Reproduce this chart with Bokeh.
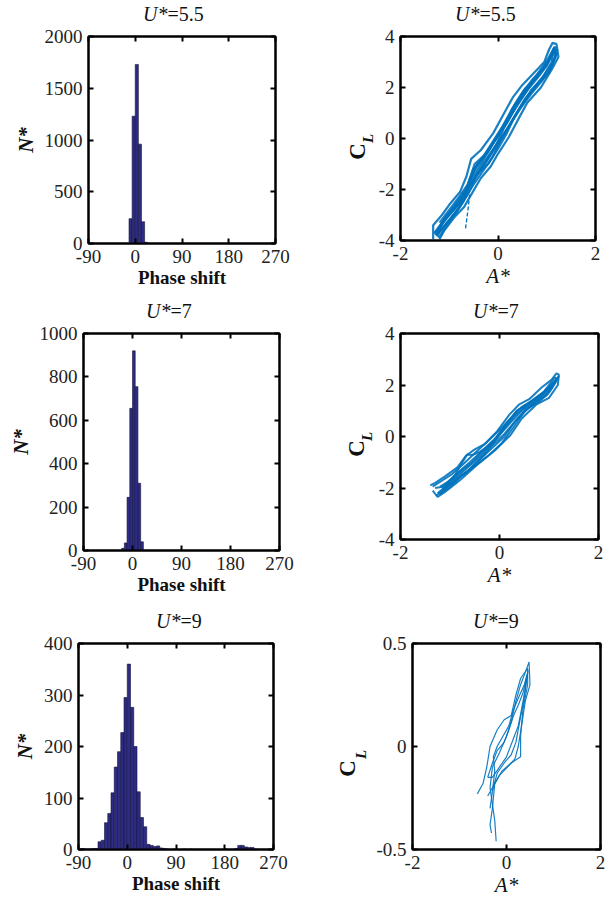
import numpy as np
from bokeh.plotting import figure
from bokeh.layouts import column, row
from bokeh.models import Range1d, FixedTicker, LinearAxis, CustomJSTickFormatter
from bokeh.core.properties import value
from bokeh.embed import file_html
from bokeh.resources import INLINE

FONT = "Liberation Serif"
BAR_COLOR = "#2D2B83"
LINE_COLOR = "#0072BD"

# ---------------- data ----------------
u_values = ["5.5", "7", "9"]

# histograms of phase shift (deg)
hist55_centers = [-9, -3, 3, 9, 15, 21]
hist55_counts = [240, 1230, 1730, 960, 210, 12]
hist55_width = 6

hist7_centers = [-17.5, -12.5, -7.5, -2.5, 2.5, 7.5, 12.5, 17.5]
hist7_counts = [10, 35, 245, 655, 920, 755, 310, 40]
hist7_width = 5

hist9_centers = [-87, -81, -75, -69, -63, -57, -51, -45, -39, -33, -27, -21, -15, -9, -3,
                 3, 9, 15, 21, 27, 33, 39, 45, 51, 57, 63, 69, 75, 87, 105, 117, 183,
                 201, 207, 213, 219, 225, 231, 237]
hist9_counts = [1, 2, 1, 1, 2, 2, 15, 18, 52, 70, 110, 160, 190, 227, 295,
                360, 276, 200, 112, 62, 44, 10, 8, 6, 7, 3, 2, 1, 1, 1, 1, 1,
                2, 8, 8, 5, 4, 4, 1]
hist9_width = 6

phase_ticks = [-90, 0, 90, 180, 270]
hist55_yticks = [0, 500, 1000, 1500, 2000]
hist7_yticks = [0, 200, 400, 600, 800, 1000]
hist9_yticks = [0, 100, 200, 300, 400]

# C_L vs A* traces (U*=5.5)
u55_a_x = [-1.33, -1.33, -1.15, -1.0, -0.78, -0.65, -0.55, -0.35, -0.1, 0.1, 0.3, 0.5, 0.75, 0.95, 1.05, 1.12,
           1.2, 1.24, 1.1, 0.88, 0.6, 0.4, 0.22, 0.0, -0.15, -0.35, -0.55, -0.7, -0.9, -1.1, -1.2]
u55_a_y = [-3.95, -3.4, -3.0, -2.6, -2.1, -1.5, -0.8, -0.45, 0.2, 0.9, 1.6, 2.1, 2.6, 3.0, 3.5, 3.75,
           3.7, 3.2, 2.7, 2.0, 1.4, 0.7, 0.05, -0.6, -1.1, -1.55, -2.2, -2.7, -3.1, -3.6, -3.95]
u55_b_x = [-1.28, -1.1, -0.85, -0.65, -0.5, -0.3, -0.1, 0.1, 0.3, 0.5, 0.7, 0.95, 1.1, 1.18,
           1.15, 1.0, 0.75, 0.5, 0.3, 0.12, -0.05, -0.25, -0.45, -0.62, -0.8, -1.0, -1.22]
u55_b_y = [-3.8, -3.2, -2.5, -2.0, -1.2, -0.7, -0.1, 0.5, 1.2, 1.8, 2.3, 2.8, 3.3, 3.6,
           3.4, 2.9, 2.3, 1.6, 1.0, 0.4, -0.3, -0.9, -1.5, -2.2, -2.7, -3.2, -3.7]
u55_c_x = [-1.25, -1.05, -0.9, -0.7, -0.58, -0.42, -0.2, 0.0, 0.2, 0.42, 0.62, 0.85, 1.02, 1.15,
           1.2, 1.05, 0.82, 0.55, 0.35, 0.18, 0.0, -0.2, -0.4, -0.6, -0.75, -0.95, -1.15, -1.3]
u55_c_y = [-3.6, -3.0, -2.75, -2.3, -1.6, -1.0, -0.5, 0.1, 0.75, 1.5, 2.0, 2.5, 3.0, 3.45,
           3.3, 2.6, 2.15, 1.55, 0.9, 0.2, -0.4, -1.0, -1.35, -1.9, -2.45, -2.9, -3.3, -3.7]
u55_d_x = [-1.2, -1.0, -0.8, -0.62, -0.48, -0.25, -0.05, 0.15, 0.35, 0.55, 0.8, 1.0, 1.15,
           1.1, 0.92, 0.68, 0.45, 0.25, 0.05, -0.12, -0.3, -0.5, -0.68, -0.85, -1.05, -1.25]
u55_d_y = [-3.3, -2.8, -2.3, -1.8, -1.0, -0.6, 0.0, 0.6, 1.35, 1.95, 2.4, 2.9, 3.55,
           3.0, 2.4, 1.9, 1.2, 0.55, -0.1, -0.75, -1.25, -1.8, -2.35, -2.85, -3.3, -3.8]
u55_e_x = [-1.3, -1.12, -0.95, -0.75, -0.6, -0.45, -0.28, -0.05, 0.18, 0.38, 0.6, 0.82, 1.0, 1.12,
           1.22, 1.12, 0.95, 0.7, 0.5, 0.3, 0.1, -0.1, -0.28, -0.48, -0.66, -0.82, -1.02, -1.18, -1.3]
u55_e_y = [-3.7, -3.25, -2.85, -2.4, -1.75, -1.15, -0.7, -0.05, 0.6, 1.3, 1.9, 2.4, 2.85, 3.3,
           3.5, 2.95, 2.5, 1.85, 1.35, 0.75, 0.1, -0.5, -1.05, -1.55, -2.1, -2.6, -3.05, -3.45, -3.75]
u55_f_x = [-1.22, -1.05, -0.85, -0.7, -0.6, -0.4, -0.15, 0.05, 0.25, 0.45, 0.68, 0.9, 1.08, 1.18,
           1.16, 1.02, 0.8, 0.58, 0.38, 0.2, 0.02, -0.18, -0.38, -0.56, -0.72, -0.92, -1.12, -1.25]
u55_f_y = [-3.9, -3.4, -2.9, -2.45, -1.9, -1.3, -0.55, 0.0, 0.55, 1.15, 1.75, 2.25, 2.75, 3.2,
           3.6, 3.1, 2.5, 1.95, 1.4, 0.8, 0.2, -0.45, -1.1, -1.7, -2.25, -2.75, -3.2, -3.85]
u55_dash_x = [-0.58, -0.61, -0.64, -0.67]
u55_dash_y = [-2.2, -2.7, -3.15, -3.6]

# U*=7
u7_a_x = [-1.4, -1.3, -1.1, -0.85, -0.68, -0.5, -0.3, -0.05, 0.2, 0.4, 0.6, 0.85, 1.05, 1.15,
          1.2, 1.18, 1.0, 0.75, 0.45, 0.22, -0.1, -0.45, -0.8, -1.1, -1.25, -1.35]
u7_a_y = [-1.9, -1.8, -1.55, -1.2, -0.75, -0.5, -0.3, 0.2, 0.85, 1.25, 1.45, 1.9, 2.2, 2.45,
          2.4, 2.0, 1.5, 1.25, 0.7, 0.05, -0.55, -1.1, -1.7, -2.15, -2.35, -2.1]
u7_b_x = [-1.25, -1.0, -0.7, -0.4, -0.15, 0.05, 0.3, 0.55, 0.8, 1.0, 1.15,
          1.12, 0.9, 0.65, 0.35, 0.15, -0.1, -0.35, -0.6, -0.9, -1.15, -1.3]
u7_b_y = [-2.2, -1.8, -1.3, -0.8, -0.3, 0.2, 0.8, 1.2, 1.5, 1.9, 2.2,
          2.3, 1.75, 1.4, 1.0, 0.5, -0.1, -0.55, -1.0, -1.5, -1.95, -2.0]
u7_c_x = [-1.2, -0.95, -0.75, -0.55, -0.35, -0.1, 0.12, 0.35, 0.6, 0.85, 1.05, 1.18,
          1.1, 0.95, 0.7, 0.5, 0.28, 0.05, -0.2, -0.5, -0.75, -1.0, -1.22]
u7_c_y = [-1.95, -1.65, -1.3, -1.0, -0.6, -0.15, 0.45, 1.0, 1.3, 1.65, 2.0, 2.3,
          2.1, 1.6, 1.3, 0.95, 0.35, -0.25, -0.7, -1.15, -1.5, -1.95, -2.25]
u7_d_x = [-1.15, -0.9, -0.75, -0.65, -0.55, -0.4, -0.2, 0.0, 0.25, 0.5, 0.75, 0.95, 1.12,
          1.05, 0.82, 0.55, 0.3, 0.1, -0.15, -0.4, -0.65, -0.9, -1.15]
u7_d_y = [-2.05, -1.5, -1.0, -0.7, -0.72, -0.6, -0.35, 0.05, 0.6, 1.1, 1.35, 1.75, 2.1,
          1.85, 1.45, 1.1, 0.55, 0.0, -0.45, -0.9, -1.35, -1.75, -2.05]
u7_e_x = [-1.35, -1.15, -0.95, -0.72, -0.5, -0.25, 0.0, 0.22, 0.45, 0.7, 0.92, 1.1, 1.2,
          1.15, 1.0, 0.8, 0.55, 0.32, 0.1, -0.15, -0.38, -0.62, -0.88, -1.08, -1.28]
u7_e_y = [-1.95, -1.7, -1.45, -1.05, -0.65, -0.2, 0.25, 0.7, 1.15, 1.4, 1.75, 2.1, 2.35,
          2.15, 1.7, 1.35, 1.05, 0.6, 0.1, -0.35, -0.85, -1.3, -1.65, -2.0, -2.3]

# U*=9
u9_a_x = [-0.22, -0.25, -0.3, -0.35, -0.3, -0.15, 0.0, 0.1, 0.2, 0.3, 0.4, 0.48,
          0.5, 0.4, 0.32, 0.25, 0.18, 0.02, -0.15, -0.3, -0.4]
u9_a_y = [-0.46, -0.36, -0.28, -0.2, -0.1, -0.03, 0.05, 0.12, 0.22, 0.3, 0.36, 0.41,
          0.3, 0.22, 0.1, 0.0, -0.06, -0.1, -0.14, -0.2, -0.24]
u9_b_x = [-0.62, -0.5, -0.42, -0.35, -0.2, -0.05, 0.1, 0.2, 0.3, 0.45,
          0.45, 0.35, 0.3, 0.3, 0.1, -0.1, -0.25, -0.3, -0.35, -0.32]
u9_b_y = [-0.23, -0.18, -0.1, 0.0, 0.08, 0.13, 0.15, 0.25, 0.33, 0.38,
          0.3, 0.18, 0.05, -0.05, -0.08, -0.12, -0.18, -0.3, -0.38, -0.42]
u9_c_x = [-0.4, -0.3, -0.2, -0.05, 0.05, 0.15, 0.25, 0.35, 0.42, 0.46,
          0.4, 0.32, 0.25, 0.15, 0.0, -0.15, -0.3, -0.4]
u9_c_y = [-0.15, -0.08, -0.02, 0.02, 0.08, 0.15, 0.2, 0.26, 0.33, 0.37,
          0.28, 0.18, 0.1, 0.04, -0.05, -0.1, -0.15, -0.15]
u9_d_x = [-0.35, -0.3, -0.25, -0.28, -0.2, -0.1, 0.05, 0.15, 0.28, 0.38, 0.44,
          0.38, 0.28, 0.2, 0.1, -0.05, -0.2, -0.3]
u9_d_y = [-0.3, -0.22, -0.12, -0.05, 0.0, 0.04, 0.1, 0.18, 0.25, 0.3, 0.35,
          0.24, 0.12, 0.02, -0.04, -0.08, -0.13, -0.22]

amp_ticks = [-2, 0, 2]
cl_ticks_big = [-4, -2, 0, 2, 4]
cl_ticks_small = [-0.5, 0, 0.5]

FMT = "return String(tick);"
HIDE_FMT = "return '';"
TEXT_COLOR = "#111111"


def style_axis(ax, ticks, show_labels):
    ax.ticker = FixedTicker(ticks=ticks)
    ax.minor_tick_line_color = None
    ax.major_tick_in = 5
    ax.major_tick_out = 0
    ax.major_tick_line_width = 2
    ax.major_tick_line_color = "black"
    ax.axis_line_color = "black"
    ax.axis_line_width = 2
    ax.major_label_text_font = FONT
    ax.axis_label_text_font = FONT
    ax.axis_label_text_color = TEXT_COLOR
    if show_labels:
        ax.formatter = CustomJSTickFormatter(code=FMT)
        ax.major_label_text_font_size = "19px"
        ax.major_label_text_color = "#222222"
        ax.major_label_standoff = 6
    else:
        ax.formatter = CustomJSTickFormatter(code=HIDE_FMT)
        ax.major_label_text_font_size = "1px"
        ax.major_label_text_color = None
        ax.major_label_standoff = 0


def make_fig(geo, xr, yr, xticks, yticks):
    fw, fh, bl, br, bt, bb = geo
    p = figure(frame_width=fw, frame_height=fh,
               x_range=Range1d(*xr), y_range=Range1d(*yr),
               output_backend="svg", toolbar_location=None, tools="")
    p.min_border_left = bl
    p.min_border_right = br
    p.min_border_top = bt
    p.min_border_bottom = bb
    p.grid.visible = False
    p.outline_line_color = "black"
    p.outline_line_width = 2
    p.background_fill_color = "white"
    p.border_fill_color = "white"
    bottom = p.below[0]
    left = p.left[0]
    style_axis(bottom, xticks, True)
    style_axis(left, yticks, True)
    top = LinearAxis()
    right = LinearAxis()
    style_axis(top, xticks, False)
    style_axis(right, yticks, False)
    p.add_layout(top, "above")
    p.add_layout(right, "right")
    return p, bottom, left


def text_strip(w, h, items):
    """A frameless strip figure whose frame is the whole strip; 1 unit = 1 px."""
    s = figure(frame_width=w, frame_height=h, x_range=Range1d(0, w), y_range=Range1d(0, h),
               output_backend="svg", toolbar_location=None, tools="",
               x_axis_type=None, y_axis_type=None, min_border=0)
    s.outline_line_color = None
    s.background_fill_color = "white"
    s.border_fill_color = "white"
    for (x, y, txt, style, size, align, baseline, angle) in items:
        s.text(x=[x], y=[y], text=[txt], text_font=value(FONT), text_font_style=style,
               text_font_size=size, text_align=align, text_baseline=baseline,
               angle=angle, text_color=TEXT_COLOR)
    return s


def title_items(x_junction, y_mid, u):
    return [(x_junction, y_mid, "U*", "italic", "20px", "right", "middle", 0.0),
            (x_junction, y_mid, "=" + u, "normal", "20px", "left", "middle", 0.0)]


def cl_items(cx, cy, lx, ly):
    return [(cx, cy, "C", "bold", "23px", "center", "middle", np.pi / 2),
            (lx, ly, "L", "bold italic", "15px", "center", "middle", np.pi / 2)]


def hist_panel(geo, yr, yticks, centers, counts, width):
    xr = (-90, 270)
    p, bottom, left = make_fig(geo, xr, yr, phase_ticks, yticks)
    p.vbar(x=centers, top=counts, bottom=0, width=width,
           fill_color=BAR_COLOR, line_color="#15153a", line_width=0.6)
    bottom.axis_label = "Phase shift"
    bottom.axis_label_text_font_style = "bold"
    bottom.axis_label_text_font_size = "19px"
    bottom.axis_label_standoff = 1
    left.axis_label = "N*"
    left.axis_label_text_font_style = "bold italic"
    left.axis_label_text_font_size = "21px"
    left.axis_label_standoff = 4
    return p


def loop_panel(geo, yr, yticks, xs, ys, lw, dash_x=None, dash_y=None):
    xr = (-2, 2)
    p, bottom, left = make_fig(geo, xr, yr, amp_ticks, yticks)
    p.multi_line(xs=xs, ys=ys, line_color=LINE_COLOR, line_width=lw, line_alpha=0.9)
    if dash_x is not None:
        p.line(dash_x, dash_y, line_color=LINE_COLOR, line_width=1.3, line_dash="4 2")
    bottom.axis_label = "A*"
    bottom.axis_label_text_font_style = "italic"
    bottom.axis_label_text_font_size = "21px"
    bottom.axis_label_standoff = 1
    return p


# geometry: frame_w, frame_h, border_left, border_right, border_top, border_bottom
g1 = (187, 207, 88, 55, 11, 57)
g2 = (195, 204, 24, 12, 11, 60)
g3 = (196, 217, 83, 51, 11, 50)
g4 = (198, 206, 23, 10, 11, 61)
g5 = (195, 206, 78, 57, 11, 51)
g6 = (188, 206, 40, 6, 11, 51)
ROW_W = 606

f1 = hist_panel(g1, (0, 2000), hist55_yticks, hist55_centers, hist55_counts, hist55_width)
f2 = loop_panel(g2, (-4, 4), cl_ticks_big,
                [u55_a_x, u55_b_x, u55_c_x, u55_d_x, u55_e_x, u55_f_x],
                [u55_a_y, u55_b_y, u55_c_y, u55_d_y, u55_e_y, u55_f_y],
                2.2, u55_dash_x, u55_dash_y)
f3 = hist_panel(g3, (0, 1000), hist7_yticks, hist7_centers, hist7_counts, hist7_width)
f4 = loop_panel(g4, (-4, 4), cl_ticks_big,
                [u7_a_x, u7_b_x, u7_c_x, u7_d_x, u7_e_x],
                [u7_a_y, u7_b_y, u7_c_y, u7_d_y, u7_e_y], 2.0)
f5 = hist_panel(g5, (0, 400), hist9_yticks, hist9_centers, hist9_counts, hist9_width)
f6 = loop_panel(g6, (-0.5, 0.5), cl_ticks_small,
                [u9_a_x, u9_b_x, u9_c_x, u9_d_x], [u9_a_y, u9_b_y, u9_c_y, u9_d_y], 1.2)

# title strips (full row width) and C_L label strips (between the two panels)
t1 = text_strip(ROW_W, 25, title_items(167, 12, u_values[0]) + title_items(479, 12, u_values[0]))
t2 = text_strip(ROW_W, 22, title_items(170, 11.5, u_values[1]) + title_items(497, 11.5, u_values[1]))
t3 = text_strip(ROW_W, 32, title_items(180, 12, u_values[2]) + title_items(497, 12, u_values[2]))

l2 = text_strip(45, 275, cl_items(27, 160, 37, 173))
l4 = text_strip(45, 278, cl_items(26, 163, 36, 175))
l6 = text_strip(42, 268, cl_items(17, 143, 30, 157))

layout = column(t1, row(f1, l2, f2), t2, row(f3, l4, f4), t3, row(f5, l6, f6))

open("out.html", "w").write(file_html(layout, INLINE))
